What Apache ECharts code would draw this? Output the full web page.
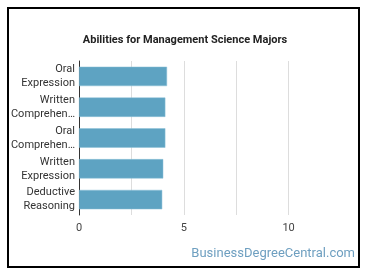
<!DOCTYPE html>
<html><head><meta charset="utf-8">
<script src="https://cdn.jsdelivr.net/npm/echarts@6/dist/echarts.min.js"></script>
<style>html,body{margin:0;padding:0;background:#fff}#c{width:370px;height:278px}
#frame{position:absolute;left:7px;top:7px;width:353px;height:261px;border:2px solid #000;box-sizing:border-box;pointer-events:none}</style>
</head><body>
<div id="c"></div><div id="frame"></div>
<script>
const categories = ["Oral Expression", "Written Comprehension", "Oral Comprehension", "Written Expression", "Deductive Reasoning"];
const values = [4.2, 4.12, 4.12, 4.02, 3.97];
const tickLabels = [0, 5, 10];
const titleText = "Abilities for Management Science Majors";
const watermark = "BusinessDegreeCentral.com";

function fmtCat(s) {
  return s.split(' ').map(w => w.length > 10 ? w.slice(0, 9) + '\u2026' : w).join('\n');
}
const chart = echarts.init(document.getElementById('c'));
chart.setOption({
  animation: false,
  textStyle: { fontFamily: 'Roboto' },
  title: {
    text: titleText, left: 'center', top: 30,
    textStyle: { fontSize: 11, fontWeight: 'bold', color: '#222', fontFamily: 'Roboto' }
  },
  graphic: [{
    type: 'text', right: 15, top: 247,
    style: { text: watermark, fontSize: 13, fill: '#6e9fc0', fontFamily: 'Roboto' }
  }],
  grid: { left: 79, right: 29, top: 61, bottom: 63, containLabel: false },
  xAxis: {
    type: 'value', min: 0, max: 12.5, interval: 2.5,
    axisLine: { show: false }, axisTick: { show: false },
    splitLine: { show: true, showMaxLine: false, lineStyle: { color: '#ddd', width: 1 } },
    axisLabel: {
      color: '#444', fontSize: 11, margin: 8,
      formatter: v => tickLabels.includes(v) ? String(v) : ''
    }
  },
  yAxis: {
    type: 'category', data: categories, inverse: true,
    axisLine: { show: true, lineStyle: { color: '#333', width: 1 } },
    axisTick: { show: false },
    axisLabel: { color: '#333', fontSize: 11, lineHeight: 14, margin: 4, formatter: fmtCat }
  },
  series: [{
    type: 'bar', data: values, barCategoryGap: '37%',
    itemStyle: { color: '#5ea3c2', borderColor: '#8cc0d8', borderWidth: 0.5 }
  }]
});
</script>
</body></html>
